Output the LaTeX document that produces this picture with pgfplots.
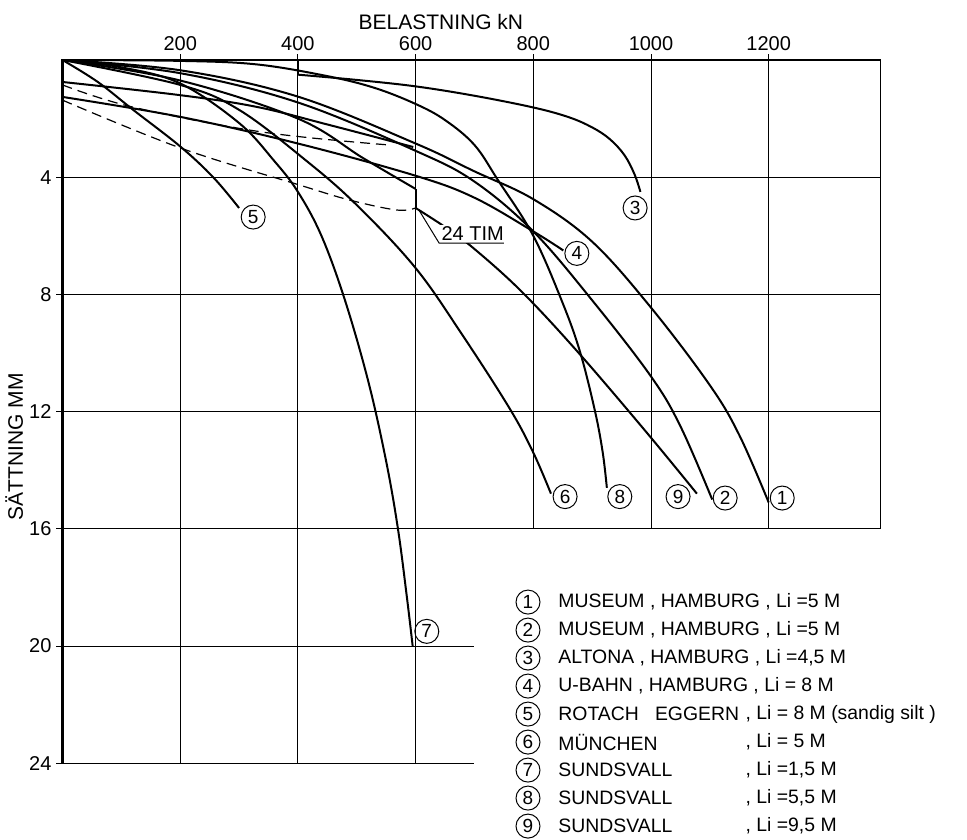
\documentclass[border=0pt]{standalone}
\usepackage{fontspec}
\setmainfont{Liberation Sans}
\usepackage{pgfplots}
\pgfplotsset{compat=1.18}
\begin{document}
\begin{tikzpicture}
\useasboundingbox (-31.25pt,30pt) rectangle (452.25pt,-389.5pt);
\begin{axis}[at={(0,0)},anchor=north west,
  scale only axis, width=409pt, height=351.6pt,
  xmin=0,xmax=1390,ymin=0,ymax=24, y dir=reverse, clip=false,
  axis line style={draw=none},
  xtick={200,400,...,1200}, ytick={4,8,...,24},
  xtick pos=upper, xticklabel pos=upper, ytick pos=left, yticklabel pos=left,
  tick align=outside, major tick length=3pt,
  tick style={black, line width=0.5pt},
  /pgf/number format/assume math mode=true,
  /pgf/number format/1000 sep={},
  ticklabel style={font=\fontsize{10}{12}\selectfont},
  xticklabel style={yshift=-2pt},
  yticklabel style={xshift=1pt},
  ]
% frame and grid
\draw[line width=0.5pt] (axis cs:0,4)--(axis cs:1390,4) (axis cs:0,8)--(axis cs:1390,8)
  (axis cs:0,12)--(axis cs:1390,12) (axis cs:0,16)--(axis cs:1390,16)
  (axis cs:1390,0)--(axis cs:1390,16)
  (axis cs:0,20)--(axis cs:700,20) (axis cs:0,24)--(axis cs:700,24)
  (axis cs:800,0)--(axis cs:800,16) (axis cs:1000,0)--(axis cs:1000,16) (axis cs:1200,0)--(axis cs:1200,16)
  (axis cs:200,0)--(axis cs:200,24) (axis cs:400,0)--(axis cs:400,24) (axis cs:600,0)--(axis cs:600,24);
\draw[line width=1.3pt] (axis cs:0,24)--(axis cs:0,0)--(axis cs:1390,0);
% curves
\pgfplotsset{every axis plot/.append style={black, line width=1pt}}
% 1
\addplot[smooth, tension=0.6] coordinates {(0,0)(200,0.35)(400,1.25)(600,2.85)(700,3.8)(800,4.75)(900,6.2)(1000,8.45)(1100,11.1)(1150,12.8)(1200,15.1)};
% 2
\addplot[smooth, tension=0.6] coordinates {(0,0)(200,0.45)(400,1.45)(600,3.1)(700,4.15)(800,5.85)(900,8.2)(1000,10.8)(1050,12.5)(1104,15)};
% 3
\addplot[sharp plot] coordinates {(0,0)(400,0)(400,0.5)};
\addplot[smooth, tension=0.6] coordinates {(400,0.5)(500,0.68)(600,0.9)(700,1.22)(800,1.62)(860,1.95)(900,2.3)(930,2.7)(955,3.25)(972,3.9)(982,4.5)};
% 4
\addplot[smooth, tension=0.6] coordinates {(0,1.26)(200,1.94)(400,2.85)(600,3.95)(700,4.7)(800,5.85)(851,6.5)};
% 5
\addplot[smooth, tension=0.6] coordinates {(0,0)(60,0.75)(120,1.7)(200,2.95)(256,4.0)(300,5.05)};
% 6
\addplot[smooth, tension=0.6] coordinates {(0,0)(200,0.85)(300,1.7)(415,3.45)(500,4.95)(600,7.1)(680,9.4)(760,11.9)(800,13.4)(830,14.8)};
% 7
\addplot[smooth, tension=0.6] coordinates {(0,0)(100,0.25)(200,0.8)(300,2.15)(360,3.45)(400,4.5)(440,6.0)(480,8.2)(520,11.0)(550,13.7)(570,16)(585,18.3)(595,20)};
% 8
\addplot[smooth, tension=0.6] coordinates {(0,0)(200,0.03)(330,0.15)(450,0.55)(530,0.95)(600,1.5)(650,2.05)(700,2.9)(740,4.1)(800,6.0)(850,8.3)(880,10.0)(905,12.0)(918,13.4)(925,14.6)};
% 9
\addplot[smooth, tension=0.6] coordinates {(0,0)(200,0.7)(400,2.0)(511,3.35)(600,4.4)};
\addplot[sharp plot] coordinates {(600,4.4)(600,5.05)};
\addplot[smooth, tension=0.6] coordinates {(600,5.05)(650,5.7)(700,6.45)(780,7.9)(875,9.95)(990,12.65)(1078,14.8)};
% reloading lines
\addplot[smooth, tension=0.6] coordinates {(0,0.75)(200,1.2)(330,1.6)(450,2.2)(596,2.97)};
\addplot[smooth, tension=0.6, line width=0.6pt, dash pattern=on 5pt off 3pt] coordinates {(0,0.85)(118,1.6)(340,2.46)(555,2.9)};
\addplot[smooth, tension=0.6, line width=0.6pt, dash pattern=on 5pt off 3pt] coordinates {(0,1.37)(200,3.0)(400,4.25)(488,4.78)(568,5.12)(600,5.05)};
% 24 TIM
\node[fill=white, inner sep=1pt, anchor=south west, font=\fontsize{10}{12}\selectfont] at (axis cs:640,6.25) {24 TIM};
\draw[line width=0.5pt] (axis cs:605,5.1)--(axis cs:640,6.25)--(axis cs:750,6.25);
% labels
\tikzset{lab/.style={circle, draw, line width=0.5pt, inner sep=0pt, minimum size=12pt, font=\fontsize{9.5}{9.5}\selectfont}}
\node[lab] at (axis cs:1223,14.95) {1};
\node[lab] at (axis cs:1126,14.95) {2};
\node[lab] at (axis cs:1046,14.9) {9};
\node[lab] at (axis cs:947,14.9) {8};
\node[lab] at (axis cs:854,14.9) {6};
\node[lab] at (axis cs:619,19.5) {7};
\node[lab] at (axis cs:973,5.05) {3};
\node[lab] at (axis cs:874,6.6) {4};
\node[lab] at (axis cs:324,5.36) {5};
% axis titles
\node[font=\fontsize{10.5}{12}\selectfont] at (axis cs:643,-1.3) {BELASTNING kN};
\node[rotate=90, font=\fontsize{10.5}{12}\selectfont] at (axis cs:-82,13.2) {SÄTTNING MM};
% legend
\tikzset{lt/.style={anchor=west, inner sep=0pt, font=\fontsize{9.7}{11}\selectfont}}
\node[lab] at (axis cs:791,18.5) {1};
\node[lt] at (axis cs:842,18.5) {MUSEUM , HAMBURG , Li =5 M};
\node[lab] at (axis cs:791,19.456) {2};
\node[lt] at (axis cs:842,19.456) {MUSEUM , HAMBURG , Li =5 M};
\node[lab] at (axis cs:791,20.411) {3};
\node[lt] at (axis cs:842,20.411) {ALTONA , HAMBURG , Li =4,5 M};
\node[lab] at (axis cs:791,21.367) {4};
\node[lt] at (axis cs:842,21.367) {U-BAHN , HAMBURG , Li = 8 M};
\node[lab] at (axis cs:791,22.323) {5};
\node[lt] at (axis cs:842,22.323) {ROTACH \ \ EGGERN};
\node[lt] at (axis cs:1160,22.323) {, Li = 8 M (sandig silt )};
\node[lab] at (axis cs:791,23.279) {6};
\node[lt] at (axis cs:842,23.279) {MÜNCHEN};
\node[lt] at (axis cs:1160,23.279) {, Li = 5 M};
\node[lab] at (axis cs:791,24.234) {7};
\node[lt] at (axis cs:842,24.234) {SUNDSVALL};
\node[lt] at (axis cs:1160,24.234) {, Li =1,5 M};
\node[lab] at (axis cs:791,25.19) {8};
\node[lt] at (axis cs:842,25.19) {SUNDSVALL};
\node[lt] at (axis cs:1160,25.19) {, Li =5,5 M};
\node[lab] at (axis cs:791,26.146) {9};
\node[lt] at (axis cs:842,26.146) {SUNDSVALL};
\node[lt] at (axis cs:1160,26.146) {, Li =9,5 M};
\end{axis}
\end{tikzpicture}
\end{document}
